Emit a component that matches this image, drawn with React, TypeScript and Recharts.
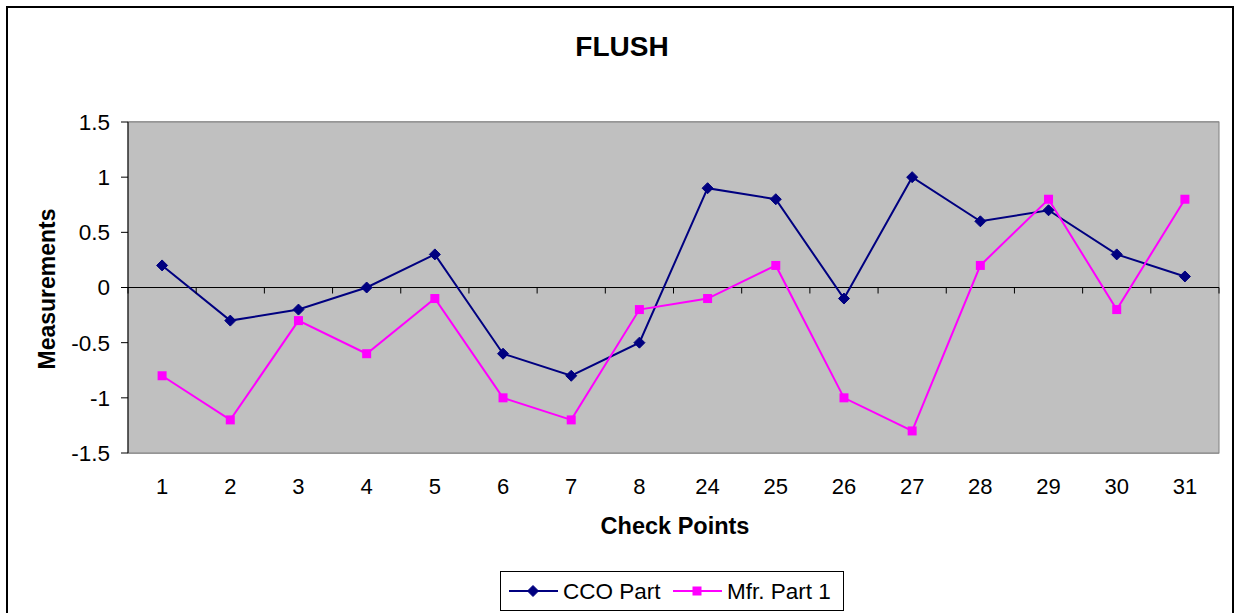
import React from "react";
import { LineChart, Line, XAxis, YAxis, CartesianGrid, ReferenceLine } from "recharts";

const checkPoints = ["1", "2", "3", "4", "5", "6", "7", "8", "24", "25", "26", "27", "28", "29", "30", "31"];
const ccoPart = [0.2, -0.3, -0.2, 0, 0.3, -0.6, -0.8, -0.5, 0.9, 0.8, -0.1, 1.0, 0.6, 0.7, 0.3, 0.1];
const mfrPart1 = [-0.8, -1.2, -0.3, -0.6, -0.1, -1.0, -1.2, -0.2, -0.1, 0.2, -1.0, -1.3, 0.2, 0.8, -0.2, 0.8];
const yTicks = [-1.5, -1, -0.5, 0, 0.5, 1, 1.5];

const data = checkPoints.map((p, i) => ({ point: p, cco: ccoPart[i], mfr: mfrPart1[i] }));

const W = 1235;
const H = 613;
const PLOT_LEFT = 128;
const PLOT_RIGHT = 1219;
const PLOT_TOP = 122;
const PLOT_BOTTOM = 453;
const Y_AXIS_W = 60;
const X_AXIS_H = 40;
const FONT = "'Liberation Sans', Arial, sans-serif";
const NAVY = "#000080";
const MAGENTA = "#FF00FF";

const band = (PLOT_RIGHT - PLOT_LEFT) / checkPoints.length;
const zeroY = (PLOT_TOP + PLOT_BOTTOM) / 2;

const Diamond = ({ cx, cy }: any) => {
  if (cx == null || cy == null) return null;
  const r = 5.5;
  return <path d={`M${cx},${cy - r}L${cx + r},${cy}L${cx},${cy + r}L${cx - r},${cy}Z`} fill={NAVY} stroke={NAVY} />;
};

const Square = ({ cx, cy }: any) => {
  if (cx == null || cy == null) return null;
  const s = 4.5;
  return <rect x={cx - s} y={cy - s} width={s * 2} height={s * 2} fill={MAGENTA} />;
};

// labels sit under the plot, tick marks sit on the zero line between categories
const CategoryTick = ({ x, y, payload, index }: any) => {
  const left = x - band / 2;
  return (
    <g>
      <line x1={left} x2={left} y1={zeroY} y2={zeroY + 6} stroke="#000" />
      {index === checkPoints.length - 1 && (
        <line x1={x + band / 2} x2={x + band / 2} y1={zeroY} y2={zeroY + 6} stroke="#000" />
      )}
      <text x={x} y={y} dy={33} textAnchor="middle" fontSize={22} fontFamily={FONT} fill="#000">
        {payload.value}
      </text>
    </g>
  );
};

const textStyle = { fontFamily: FONT, fill: "#000" };

export default function App() {
  return (
    <div style={{ position: "absolute", left: 0, top: 0, width: W, height: H, background: "#fff", overflow: "hidden" }}>
      <div
        style={{
          position: "absolute",
          left: 6,
          top: 6,
          width: 1224,
          height: 640,
          border: "2px solid #000",
        }}
      />
      <LineChart
        width={W}
        height={H}
        data={data}
        margin={{ top: PLOT_TOP, left: PLOT_LEFT - Y_AXIS_W, right: W - PLOT_RIGHT, bottom: H - PLOT_BOTTOM - X_AXIS_H }}
        style={{ position: "absolute", left: 0, top: 0 }}
      >
        <rect x={PLOT_LEFT} y={PLOT_TOP} width={PLOT_RIGHT - PLOT_LEFT} height={PLOT_BOTTOM - PLOT_TOP} fill="#C0C0C0" stroke="#808080" />
        <CartesianGrid vertical={false} stroke="#5a5a5a" />
        <XAxis
          dataKey="point"
          height={X_AXIS_H}
          axisLine={false}
          tickLine={false}
          interval={0}
          padding={{ left: band / 2, right: band / 2 }}
          tick={<CategoryTick />}
        />
        <YAxis
          width={Y_AXIS_W}
          domain={[-1.5, 1.5]}
          ticks={yTicks}
          interval={0}
          axisLine={{ stroke: "#000" }}
          tickLine={{ stroke: "#000" }}
          tickSize={7}
          tickMargin={11}
          tick={{ fontFamily: FONT, fontSize: 22.5, fill: "#000" }}
        />
        <ReferenceLine y={0} stroke="#000" />
        <Line dataKey="cco" stroke={NAVY} strokeWidth={2} dot={<Diamond />} activeDot={false} isAnimationActive={false} />
        <Line dataKey="mfr" stroke={MAGENTA} strokeWidth={2} dot={<Square />} activeDot={false} isAnimationActive={false} />

        <text x={622} y={56} textAnchor="middle" fontSize={28} fontWeight="bold" style={textStyle}>
          FLUSH
        </text>
        <text x={675} y={534} textAnchor="middle" fontSize={23.5} fontWeight="bold" style={textStyle}>
          Check Points
        </text>
        <text
          x={55}
          y={289}
          textAnchor="middle"
          fontSize={23}
          fontWeight="bold"
          transform="rotate(-90 55 289)"
          style={textStyle}
        >
          Measurements
        </text>

        <g>
          <rect x={500.5} y={571.5} width={343} height={39} fill="#fff" stroke="#000" />
          <line x1={509} x2={558} y1={591} y2={591} stroke={NAVY} strokeWidth={2} />
          <Diamond cx={533} cy={591} />
          <text x={563} y={599} fontSize={22.5} style={textStyle}>CCO Part</text>
          <line x1={673} x2={722} y1={591} y2={591} stroke={MAGENTA} strokeWidth={2} />
          <Square cx={697} cy={591} />
          <text x={727} y={599} fontSize={22.5} style={textStyle}>Mfr. Part 1</text>
        </g>
      </LineChart>
    </div>
  );
}
